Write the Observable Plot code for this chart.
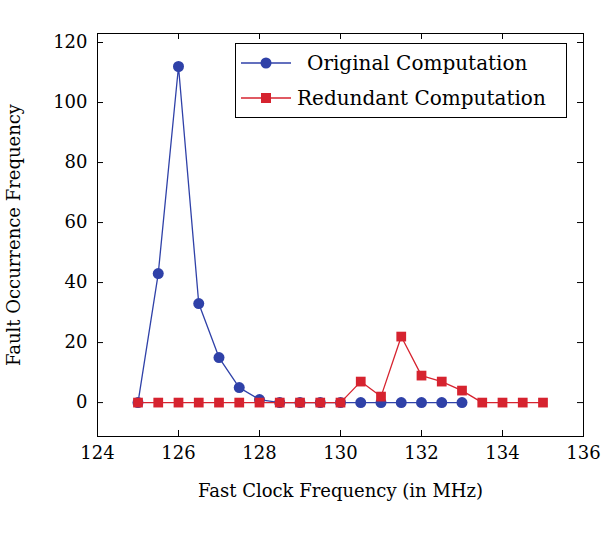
<!DOCTYPE html>
<html><head>
<meta charset="utf-8">
<script src="https://cdn.jsdelivr.net/npm/d3@7"></script>
<script src="https://cdn.jsdelivr.net/npm/@observablehq/plot@0.6"></script>
<style>
body{margin:0;background:#fff;font-family:"DejaVu Serif",serif;}
#wrap{position:relative;width:615px;height:537px;}
#legend{position:absolute;left:235px;top:43px;width:330px;height:73px;border:1px solid #000;background:#fff;font-size:20px;}
.row{display:flex;align-items:center;height:33px;margin-top:2px;}
.row svg{margin:0 6px 0 5px}
</style>
</head><body><div id="wrap"></div>
<script>
const origX = [125,125.5,126,126.5,127,127.5,128,128.5,129,129.5,130,130.5,131,131.5,132,132.5,133];
const origY = [0,43,112,33,15,5,1,0,0,0,0,0,0,0,0,0,0];
const redX = [125,125.5,126,126.5,127,127.5,128,128.5,129,129.5,130,130.5,131,131.5,132,132.5,133,133.5,134,134.5,135];
const redY = [0,0,0,0,0,0,0,0,0,0,0,7,2,22,9,7,4,0,0,0,0];
const xTicks = [124,126,128,130,132,134,136];
const yTicks = [0,20,40,60,80,100,120];
const blue="#2f41a8", red="#d6232f";
const orig = origX.map((x,i)=>({x,y:origY[i]}));
const redd = redX.map((x,i)=>({x,y:redY[i]}));
const tick = 6;
const plot = Plot.plot({
  width:615,height:537,marginLeft:97,marginRight:32,marginTop:33,marginBottom:101,
  style:{fontFamily:"DejaVu Serif, serif",fontSize:"18px",color:"#000",background:"#fff"},
  x:{domain:[124,136],ticks:xTicks,label:"Fast Clock Frequency (in MHz)",labelArrow:"none",labelAnchor:"center",labelOffset:60,tickSize:0,tickPadding:10},
  y:{domain:[-11.3,123],ticks:yTicks,label:"Fault Occurrence Frequency",labelArrow:"none",labelAnchor:"center",labelOffset:90,tickSize:0,tickPadding:10},
  marks:[
    Plot.frame({stroke:"#000"}),
    Plot.ruleX(xTicks,{x:d=>d,y1:-11.3,y2:-11.3+tick/3,stroke:"#000"}),
    Plot.ruleX(xTicks,{x:d=>d,y1:123,y2:123-tick/3,stroke:"#000"}),
    Plot.ruleY(yTicks,{y:d=>d,x1:124,x2:124+tick*12/486,stroke:"#000"}),
    Plot.ruleY(yTicks,{y:d=>d,x1:136,x2:136-tick*12/486,stroke:"#000"}),
    Plot.line(orig,{x:"x",y:"y",stroke:blue,strokeWidth:1.3}),
    Plot.dot(orig,{x:"x",y:"y",fill:blue,r:5.5}),
    Plot.line(redd,{x:"x",y:"y",stroke:red,strokeWidth:1.3}),
    Plot.dot(redd,{x:"x",y:"y",fill:red,symbol:"square",r:5.5})
  ]
});
const wrap=document.getElementById("wrap");
wrap.appendChild(plot);
const lg=document.createElement("div");lg.id="legend";
lg.innerHTML=`<div class="row"><svg width="50" height="20"><line x1="0" y1="10" x2="50" y2="10" stroke="${blue}" stroke-width="1.3"/><circle cx="25" cy="10" r="5.5" fill="${blue}"/></svg><span style="margin-left:10px">Original Computation</span></div>
<div class="row"><svg width="50" height="20"><line x1="0" y1="10" x2="50" y2="10" stroke="${red}" stroke-width="1.3"/><rect x="20" y="5" width="10" height="10" fill="${red}"/></svg><span>Redundant Computation</span></div>`;
wrap.appendChild(lg);
</script></body></html>
